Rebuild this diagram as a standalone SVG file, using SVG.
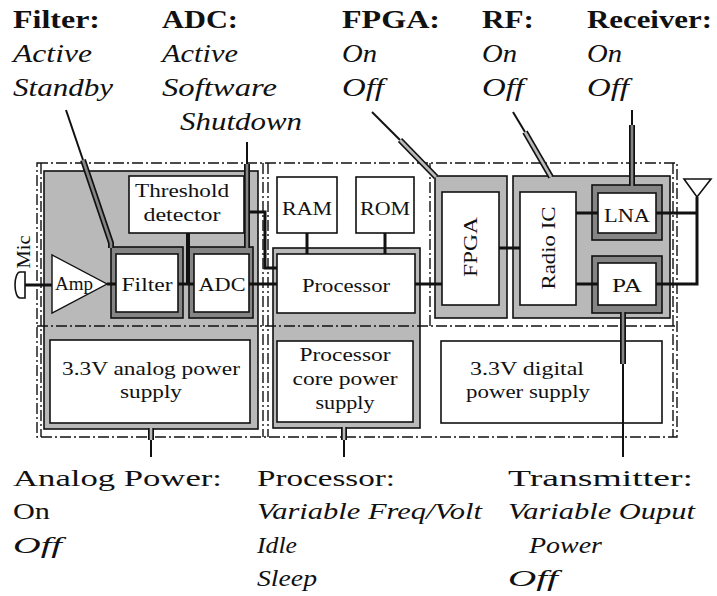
<svg xmlns="http://www.w3.org/2000/svg" width="717" height="596" viewBox="0 0 717 596">
<style>
text{font-family:"Liberation Serif","DejaVu Serif",serif;fill:#111}
.h{font-size:26px;font-weight:bold}
.s{font-size:26px;font-style:italic}
.b{font-size:24px}
.bi{font-size:24px;font-style:italic}
.n{font-size:19px;text-anchor:middle}
.dd{fill:none;stroke:#111;stroke-width:1.4;stroke-dasharray:11 3 2 3}
.lg{fill:#b9b9b9;stroke:#111;stroke-width:1.6}
.dg{fill:#858585;stroke:#111;stroke-width:1.6}
.wb{fill:#fff;stroke:#111;stroke-width:1.6}
.w{fill:none;stroke:#111;stroke-width:3}
.pk{fill:none;stroke:#111;stroke-width:6}
.pl{fill:none;stroke:#b9b9b9;stroke-width:2.6}
.pd{fill:none;stroke:#858585;stroke-width:2.6}
.t{fill:none;stroke:#111;stroke-width:2}
</style>
<rect width="717" height="596" fill="#fff"/>

<!-- domain regions -->
<g id="analog-domain"><rect class="lg" x="44" y="171" width="214" height="258"/></g>
<g id="processor-domain"><rect class="lg" x="273" y="248" width="147" height="180"/></g>
<g id="fpga-domain"><rect class="lg" x="435" y="176" width="72" height="142"/></g>
<g id="rf-domain"><rect class="lg" x="513" y="176" width="157" height="142"/></g>

<!-- power domain boundaries -->
<g id="power-boundaries">
<rect class="dd" x="37" y="163" width="640" height="274"/>
<line class="dd" x1="41" y1="163" x2="41" y2="437"/>
<line class="dd" x1="673" y1="163" x2="673" y2="437"/>
<line class="dd" x1="37" y1="326" x2="677" y2="326"/>
<line class="dd" x1="263" y1="163" x2="263" y2="437"/>
<line class="dd" x1="268" y1="163" x2="268" y2="437"/>
<line class="dd" x1="430" y1="163" x2="430" y2="326"/>
</g>

<!-- nodes -->
<g id="mic">
<path d="M25,272 H20 A5,13 0 0 0 20,298 H25 Z" fill="#fff" stroke="#111" stroke-width="1.6"/>
<text class="n" x="30" y="252" font-size="18" textLength="33" lengthAdjust="spacingAndGlyphs" transform="rotate(-90 30 252)">Mic</text>
</g>
<g id="amp">
<polygon points="52,255 52,313 107,284" fill="#fff" stroke="#111" stroke-width="1.4"/>
<text class="n" x="74" y="290" textLength="38" lengthAdjust="spacingAndGlyphs">Amp</text>
</g>
<g id="threshold">
<rect class="wb" x="129" y="176" width="115" height="57"/>
<text class="n" x="182" y="197" textLength="94" lengthAdjust="spacingAndGlyphs">Threshold</text>
<text class="n" x="182" y="221" textLength="77" lengthAdjust="spacingAndGlyphs">detector</text>
</g>
<g id="filter">
<rect class="dg" x="111" y="247" width="72" height="71"/>
<rect class="wb" x="116" y="254" width="62" height="58"/>
<text class="n" x="147" y="291" textLength="51" lengthAdjust="spacingAndGlyphs">Filter</text>
</g>
<g id="adc">
<rect class="dg" x="189" y="247" width="64" height="71"/>
<rect class="wb" x="194" y="254" width="55" height="58"/>
<text class="n" x="222" y="291" textLength="47" lengthAdjust="spacingAndGlyphs">ADC</text>
</g>
<g id="ram">
<rect class="wb" x="277" y="177" width="60" height="56"/>
<text class="n" x="307" y="215" font-size="21" textLength="50" lengthAdjust="spacingAndGlyphs">RAM</text>
</g>
<g id="rom">
<rect class="wb" x="356" y="177" width="58" height="56"/>
<text class="n" x="385" y="215" font-size="21" textLength="50" lengthAdjust="spacingAndGlyphs">ROM</text>
</g>
<g id="processor">
<rect class="wb" x="277" y="254" width="138" height="59"/>
<text class="n" x="346" y="292" textLength="88" lengthAdjust="spacingAndGlyphs">Processor</text>
</g>
<g id="fpga">
<rect class="wb" x="442" y="192" width="57" height="113"/>
<text class="n" x="477" y="247" textLength="60" lengthAdjust="spacingAndGlyphs" transform="rotate(-90 477 247)">FPGA</text>
</g>
<g id="radio-ic">
<rect class="wb" x="520" y="192" width="56" height="113"/>
<text class="n" x="555" y="248" textLength="83" lengthAdjust="spacingAndGlyphs" transform="rotate(-90 555 248)">Radio IC</text>
</g>
<g id="lna">
<rect class="dg" x="592" y="185" width="70" height="55"/>
<rect class="wb" x="598" y="193" width="58" height="40"/>
<text class="n" x="627" y="222" textLength="46" lengthAdjust="spacingAndGlyphs">LNA</text>
</g>
<g id="pa">
<rect class="dg" x="592" y="256" width="70" height="57"/>
<rect class="wb" x="598" y="263" width="58" height="42"/>
<text class="n" x="627" y="292" textLength="30" lengthAdjust="spacingAndGlyphs">PA</text>
</g>
<g id="antenna">
<polygon points="684,179 711,179 697,197" fill="#fff" stroke="#111" stroke-width="1.6"/>
</g>
<g id="analog-psu">
<rect class="wb" x="50" y="340" width="200" height="83"/>
<text class="n" x="151" y="375" textLength="178" lengthAdjust="spacingAndGlyphs">3.3V analog power</text>
<text class="n" x="151" y="398" textLength="62" lengthAdjust="spacingAndGlyphs">supply</text>
</g>
<g id="core-psu">
<rect class="wb" x="277" y="341" width="136" height="81"/>
<text class="n" x="345" y="361" textLength="91" lengthAdjust="spacingAndGlyphs">Processor</text>
<text class="n" x="345" y="385" textLength="105" lengthAdjust="spacingAndGlyphs">core power</text>
<text class="n" x="345" y="409" textLength="59" lengthAdjust="spacingAndGlyphs">supply</text>
</g>
<g id="digital-psu">
<rect class="wb" x="441" y="341" width="221" height="82"/>
<text class="n" x="527" y="375" textLength="114" lengthAdjust="spacingAndGlyphs">3.3V digital</text>
<text class="n" x="528" y="398" textLength="124" lengthAdjust="spacingAndGlyphs">power supply</text>
</g>

<!-- connectors -->
<g id="connectors">
<line class="w" x1="25" y1="285" x2="52" y2="285"/>
<line class="w" x1="107" y1="284" x2="116" y2="284"/>
<line class="w" x1="178" y1="284" x2="194" y2="284"/>
<line x1="188" y1="233" x2="188" y2="284" stroke="#111" stroke-width="4"/>
<polyline class="w" points="244,212 265,212 265,268 277,268"/>
<line class="w" x1="249" y1="284" x2="277" y2="284"/>
<line class="w" x1="307" y1="233" x2="307" y2="254"/>
<line class="w" x1="385" y1="233" x2="385" y2="254"/>
<line class="w" x1="415" y1="284" x2="442" y2="284"/>
<line class="w" x1="499" y1="248" x2="520" y2="248"/>
<line class="w" x1="576" y1="213" x2="598" y2="213"/>
<line class="w" x1="576" y1="284" x2="598" y2="284"/>
<polyline class="w" points="656,213 697,213"/>
<polyline class="w" points="656,284 697,284 697,197"/>
<!-- state pointers -->
<line class="t" x1="66" y1="110" x2="83" y2="160" stroke-width="2.5"/>
<polyline class="pk" points="83,160 111,243 111,248"/>
<polyline class="pd" points="83,160 111,243 111,248"/>
<line class="t" x1="247" y1="142" x2="247" y2="164"/>
<line class="pk" x1="247" y1="164" x2="247" y2="248"/>
<line class="pd" x1="247" y1="164" x2="247" y2="248"/>
<line class="t" x1="372" y1="112" x2="400" y2="140"/>
<line class="pk" x1="400" y1="140" x2="436" y2="177"/>
<line class="pl" x1="400" y1="140" x2="436" y2="177"/>
<line class="t" x1="513" y1="112" x2="525" y2="132"/>
<line class="pk" x1="525" y1="132" x2="551" y2="177"/>
<line class="pl" x1="525" y1="132" x2="551" y2="177"/>
<line class="t" x1="632" y1="110" x2="632" y2="125"/>
<line class="pk" x1="632" y1="125" x2="632" y2="186"/>
<line class="pd" x1="632" y1="125" x2="632" y2="186"/>
<line class="pk" x1="151" y1="428" x2="151" y2="440"/>
<line class="pl" x1="151" y1="428" x2="151" y2="440"/>
<line class="t" x1="151" y1="440" x2="151" y2="457"/>
<line class="pk" x1="344" y1="427" x2="344" y2="440"/>
<line class="pl" x1="344" y1="427" x2="344" y2="440"/>
<line class="t" x1="344" y1="440" x2="344" y2="457"/>
<line class="pk" x1="623" y1="312" x2="623" y2="364"/>
<line class="pd" x1="623" y1="312" x2="623" y2="364"/>
<line class="t" x1="623" y1="364" x2="623" y2="457"/>
</g>

<!-- state labels -->
<g id="label-filter">
<text class="h" x="13" y="28" textLength="87" lengthAdjust="spacingAndGlyphs">Filter:</text>
<text class="s" x="13" y="62" textLength="79" lengthAdjust="spacingAndGlyphs">Active</text>
<text class="s" x="13" y="96" textLength="100" lengthAdjust="spacingAndGlyphs">Standby</text>
</g>
<g id="label-adc">
<text class="h" x="162" y="28" textLength="76" lengthAdjust="spacingAndGlyphs">ADC:</text>
<text class="s" x="162" y="62" textLength="76" lengthAdjust="spacingAndGlyphs">Active</text>
<text class="s" x="162" y="96" textLength="115" lengthAdjust="spacingAndGlyphs">Software</text>
<text class="s" x="180" y="130" textLength="122" lengthAdjust="spacingAndGlyphs">Shutdown</text>
</g>
<g id="label-fpga">
<text class="h" x="342" y="28" textLength="98" lengthAdjust="spacingAndGlyphs">FPGA:</text>
<text class="s" x="342" y="62" textLength="35" lengthAdjust="spacingAndGlyphs">On</text>
<text class="s" x="342" y="96" textLength="42" lengthAdjust="spacingAndGlyphs">Off</text>
</g>
<g id="label-rf">
<text class="h" x="482" y="28" textLength="52" lengthAdjust="spacingAndGlyphs">RF:</text>
<text class="s" x="482" y="62" textLength="35" lengthAdjust="spacingAndGlyphs">On</text>
<text class="s" x="482" y="96" textLength="42" lengthAdjust="spacingAndGlyphs">Off</text>
</g>
<g id="label-receiver">
<text class="h" x="587" y="28" textLength="125" lengthAdjust="spacingAndGlyphs">Receiver:</text>
<text class="s" x="587" y="62" textLength="35" lengthAdjust="spacingAndGlyphs">On</text>
<text class="s" x="587" y="96" textLength="42" lengthAdjust="spacingAndGlyphs">Off</text>
</g>
<g id="label-analog-power">
<text class="b" x="13" y="486" textLength="209" lengthAdjust="spacingAndGlyphs">Analog Power:</text>
<text class="b" x="13" y="519" textLength="37" lengthAdjust="spacingAndGlyphs">On</text>
<text class="bi" x="13" y="553" textLength="49" lengthAdjust="spacingAndGlyphs">Off</text>
</g>
<g id="label-processor">
<text class="b" x="257" y="486" textLength="138" lengthAdjust="spacingAndGlyphs">Processor:</text>
<text class="bi" x="257" y="519" textLength="225" lengthAdjust="spacingAndGlyphs">Variable Freq/Volt</text>
<text class="bi" x="257" y="553" textLength="40" lengthAdjust="spacingAndGlyphs">Idle</text>
<text class="bi" x="257" y="586" textLength="60" lengthAdjust="spacingAndGlyphs">Sleep</text>
</g>
<g id="label-transmitter">
<text class="b" x="508" y="486" textLength="185" lengthAdjust="spacingAndGlyphs">Transmitter:</text>
<text class="bi" x="508" y="519" textLength="187" lengthAdjust="spacingAndGlyphs">Variable Ouput</text>
<text class="bi" x="529" y="553" textLength="73" lengthAdjust="spacingAndGlyphs">Power</text>
<text class="bi" x="508" y="586" textLength="50" lengthAdjust="spacingAndGlyphs">Off</text>
</g>
</svg>
